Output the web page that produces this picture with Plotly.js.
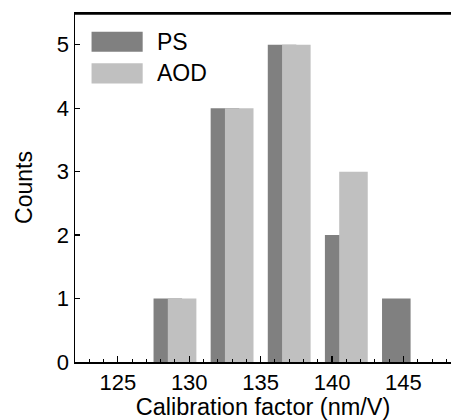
<!DOCTYPE html>
<html>
<head>
<meta charset="utf-8">
<script src="https://cdn.plot.ly/plotly-3.0.1.min.js"></script>
<style>html,body{margin:0;padding:0;background:#fff;}#chart{width:451px;height:420px;}</style>
</head>
<body>
<div id="chart"></div>
<script>
// Data
const seriesNames = ["PS", "AOD"];
const psCenters = [128.5, 132.5, 136.5, 140.5, 144.5];
const psCounts = [1, 4, 5, 2, 1];
const aodCenters = [129.5, 133.5, 137.5, 141.5];
const aodCounts = [1, 4, 5, 3];
const xTickVals = [125, 130, 135, 140, 145];
const yTickVals = [0, 1, 2, 3, 4, 5];

const colors = ["#808080", "#c0c0c0"];
const font = "Arial, 'Liberation Sans', sans-serif";

const traces = [
  {type: "bar", name: seriesNames[0], x: psCenters, y: psCounts, width: 2,
   marker: {color: colors[0], line: {width: 0}}, showlegend: false},
  {type: "bar", name: seriesNames[1], x: aodCenters, y: aodCounts, width: 2,
   marker: {color: colors[1], line: {width: 0}}, showlegend: false}
];

const layout = {
  width: 451, height: 420,
  margin: {l: 75, r: 0, t: 13, b: 58},
  paper_bgcolor: "#fff", plot_bgcolor: "#fff",
  barmode: "overlay",
  font: {family: font, color: "#000", size: 22},
  xaxis: {
    range: [122, 148.33], tickvals: xTickVals, ticks: "inside", ticklen: 6, tickwidth: 1.2,
    tickcolor: "#000", showline: true, linecolor: "#000", linewidth: 1.5, mirror: true,
    showgrid: false, zeroline: false,
    minor: {dtick: 1, tick0: 125, ticks: "inside", ticklen: 3, tickwidth: 1, tickcolor: "#000"},
    tickfont: {size: 22, family: font},
    title: {text: "Calibration factor (nm/V)", font: {size: 23.5, family: font}, standoff: 2}
  },
  yaxis: {
    range: [0, 5.5], tickvals: yTickVals, ticks: "inside", ticklen: 5, tickwidth: 1.2,
    tickcolor: "#000", showline: true, linecolor: "#000", linewidth: 1.5,
    showgrid: false, zeroline: false,
    tickfont: {size: 22, family: font},
    title: {text: "Counts", font: {size: 23, family: font}, standoff: 18}
  },
  shapes: [
    {type: "line", xref: "paper", yref: "paper", x0: 0, x1: 1, y0: 0.998, y1: 0.998,
     line: {color: "#000", width: 2}, layer: "above"},
    {type: "rect", xref: "paper", yref: "paper", x0: 0.044, x1: 0.180, y0: 0.889, y1: 0.946,
     fillcolor: colors[0], line: {width: 0}},
    {type: "rect", xref: "paper", yref: "paper", x0: 0.044, x1: 0.180, y0: 0.798, y1: 0.856,
     fillcolor: colors[1], line: {width: 0}}
  ],
  annotations: [
    {xref: "paper", yref: "paper", x: 0.214, y: 0.917, xanchor: "left", yanchor: "middle",
     text: seriesNames[0], showarrow: false, font: {size: 23, family: font}},
    {xref: "paper", yref: "paper", x: 0.214, y: 0.827, xanchor: "left", yanchor: "middle",
     text: seriesNames[1], showarrow: false, font: {size: 23, family: font}}
  ]
};

Plotly.newPlot("chart", traces, layout, {displayModeBar: false, staticPlot: true});
</script>
</body>
</html>
